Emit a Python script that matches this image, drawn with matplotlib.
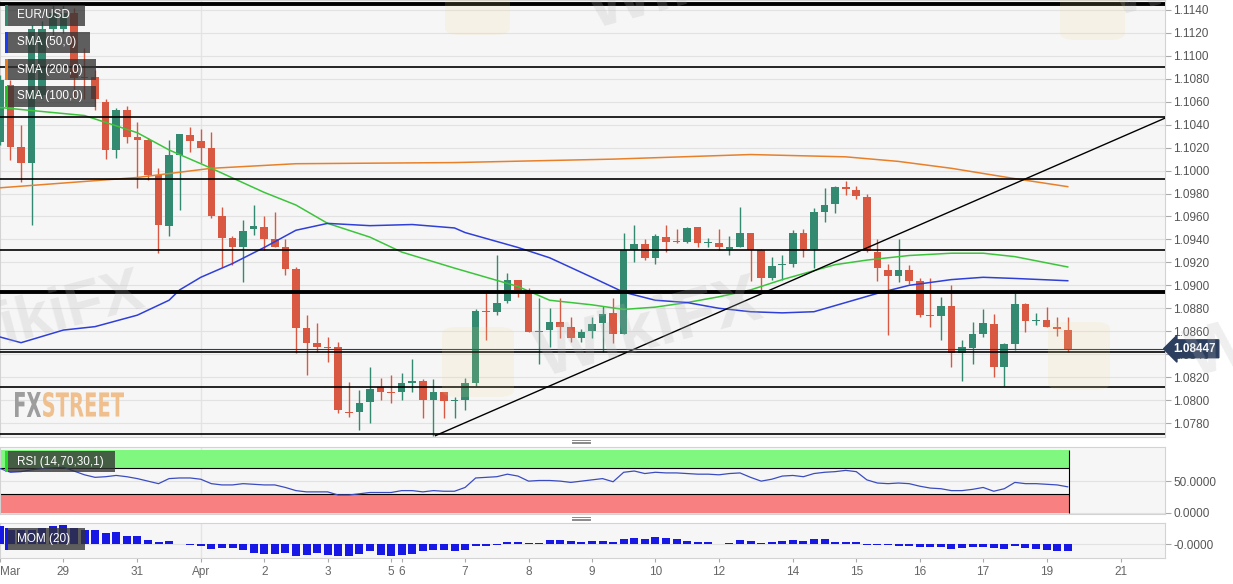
import matplotlib
matplotlib.use("Agg")
import matplotlib.pyplot as plt
from matplotlib.patches import Rectangle, FancyBboxPatch, PathPatch
from matplotlib.textpath import TextPath
from matplotlib.font_manager import FontProperties
from matplotlib.transforms import Affine2D, IdentityTransform

plt.rcParams["font.family"] = ["Liberation Sans", "DejaVu Sans"]

# ---- data (4h candles, first one half hidden at the left edge) ----
first_idx = -1
opens = [1.1025, 1.1075, 1.1021, 1.1007, 1.1066, 1.1123, 1.1123, 1.1137, 1.1082, 1.1082,
         1.1060, 1.1018, 1.1053, 1.1029, 1.1027, 1.0996, 1.0952, 1.1014, 1.1031, 1.1026,
         1.1020, 1.0960, 1.0941, 1.0933, 1.0949, 1.0951, 1.0940, 1.0933, 1.0914, 1.0863,
         1.0850, 1.0846, 1.0846, 1.0790, 1.0790, 1.0798, 1.0811, 1.0807, 1.0807, 1.0815,
         1.0817, 1.0800, 1.0807, 1.0799, 1.0800, 1.0815, 1.0878, 1.0877, 1.0886, 1.0905,
         1.0893, 1.0859, 1.0861, 1.0868, 1.0864, 1.0854, 1.0860, 1.0867, 1.0876, 1.0858,
         1.0931, 1.0936, 1.0924, 1.0942, 1.0939, 1.0938, 1.0951, 1.0937, 1.0937, 1.0932,
         1.0933, 1.0946, 1.0931, 1.0906, 1.0918, 1.0919, 1.0946, 1.0932, 1.0964, 1.0971,
         1.0986, 1.0983, 1.0977, 1.0929, 1.0913, 1.0908, 1.0913, 1.0904, 1.0874, 1.0873,
         1.0882, 1.0841, 1.0845, 1.0858, 1.0866, 1.0829, 1.0849, 1.0884, 1.0869, 1.0870,
         1.0864, 1.0861]
highs = [1.1083, 1.1079, 1.1040, 1.1127, 1.1130, 1.1146, 1.1146, 1.1142, 1.1107, 1.1088,
         1.1062, 1.1055, 1.1056, 1.1042, 1.1028, 1.1002, 1.1027, 1.1032, 1.1038, 1.1036,
         1.1034, 1.0968, 1.0943, 1.0957, 1.0970, 1.0960, 1.0964, 1.0940, 1.0916, 1.0874,
         1.0867, 1.0855, 1.0851, 1.0816, 1.0809, 1.0829, 1.0819, 1.0822, 1.0824, 1.0836,
         1.0818, 1.0818, 1.0807, 1.0803, 1.0819, 1.0879, 1.0893, 1.0926, 1.0911, 1.0905,
         1.0898, 1.0889, 1.0880, 1.0889, 1.0872, 1.0862, 1.0872, 1.0882, 1.0889, 1.0946,
         1.0953, 1.0940, 1.0945, 1.0953, 1.0949, 1.0951, 1.0951, 1.0941, 1.0949, 1.0943,
         1.0968, 1.0946, 1.0932, 1.0925, 1.0926, 1.0948, 1.0949, 1.0967, 1.0985, 1.0987,
         1.0991, 1.0987, 1.0980, 1.0940, 1.0919, 1.0940, 1.0918, 1.0906, 1.0906, 1.0890,
         1.0900, 1.0852, 1.0868, 1.0879, 1.0875, 1.0850, 1.0893, 1.0885, 1.0876, 1.0881,
         1.0872, 1.0872]
lows = [1.1022, 1.1009, 1.0990, 1.0953, 1.1062, 1.1118, 1.1120, 1.1062, 1.1062, 1.1053,
        1.1010, 1.1011, 1.1024, 1.0985, 1.0992, 1.0928, 1.0943, 1.0966, 1.1016, 1.1007,
        1.0959, 1.0916, 1.0918, 1.0903, 1.0944, 1.0931, 1.0933, 1.0909, 1.0841, 1.0822,
        1.0842, 1.0833, 1.0789, 1.0785, 1.0774, 1.0780, 1.0800, 1.0797, 1.0800, 1.0807,
        1.0784, 1.0769, 1.0784, 1.0784, 1.0791, 1.0812, 1.0852, 1.0874, 1.0885, 1.0890,
        1.0859, 1.0831, 1.0846, 1.0854, 1.0851, 1.0851, 1.0854, 1.0842, 1.0850, 1.0858,
        1.0920, 1.0922, 1.0919, 1.0929, 1.0937, 1.0937, 1.0933, 1.0933, 1.0931, 1.0926,
        1.0933, 1.0904, 1.0896, 1.0905, 1.0905, 1.0916, 1.0925, 1.0915, 1.0955, 1.0963,
        1.0979, 1.0975, 1.0929, 1.0904, 1.0857, 1.0903, 1.0901, 1.0872, 1.0864, 1.0852,
        1.0829, 1.0817, 1.0831, 1.0855, 1.0820, 1.0812, 1.0844, 1.0859, 1.0865, 1.0864,
        1.0856, 1.0842]
closes = [1.1079, 1.1021, 1.1007, 1.1123, 1.1123, 1.1137, 1.1137, 1.1081, 1.1081, 1.1062,
          1.1018, 1.1053, 1.1029, 1.1027, 1.0996, 1.0953, 1.1014, 1.1032, 1.1026, 1.1020,
          1.0960, 1.0941, 1.0933, 1.0947, 1.0952, 1.0940, 1.0933, 1.0914, 1.0863, 1.0850,
          1.0846, 1.0845, 1.0791, 1.0789, 1.0797, 1.0810, 1.0807, 1.0806, 1.0815, 1.0817,
          1.0800, 1.0807, 1.0799, 1.0800, 1.0815, 1.0878, 1.0877, 1.0885, 1.0905, 1.0896,
          1.0859, 1.0860, 1.0868, 1.0864, 1.0854, 1.0859, 1.0866, 1.0875, 1.0858, 1.0931,
          1.0936, 1.0924, 1.0943, 1.0938, 1.0938, 1.0950, 1.0937, 1.0938, 1.0933, 1.0933,
          1.0946, 1.0931, 1.0906, 1.0917, 1.0919, 1.0946, 1.0932, 1.0964, 1.0970, 1.0986,
          1.0984, 1.0978, 1.0930, 1.0915, 1.0908, 1.0913, 1.0904, 1.0874, 1.0873, 1.0882,
          1.0841, 1.0846, 1.0858, 1.0867, 1.0829, 1.0849, 1.0884, 1.0869, 1.0870, 1.0864,
          1.0862, 1.08447]

# moving averages, sampled along the curves (candle index, price)
sma50_x = [-1, 1, 5, 8, 12, 15, 16, 18, 21, 24, 27, 30, 34, 38, 42, 43, 48, 51, 55, 58,
           61, 64, 67, 70, 73, 76, 79, 82, 85, 89, 92, 95, 100]
sma50 = [1.0855, 1.0850, 1.0861, 1.0864, 1.0874, 1.0887, 1.0896, 1.0907, 1.0919, 1.0933,
         1.0948, 1.0954, 1.0952, 1.0953, 1.0950, 1.0946, 1.0933, 1.0924, 1.0907, 1.0894,
         1.0887, 1.0885, 1.0880, 1.0877, 1.0876, 1.0877, 1.0885, 1.0893, 1.0900, 1.0905,
         1.0907, 1.0906, 1.0904]
sma100_x = [-1, 7, 12, 15, 19, 24, 27, 30, 34, 37, 42, 45, 48, 51, 55, 58, 61, 64, 67,
            70, 73, 78, 81, 85, 89, 92, 95, 100]
sma100 = [1.1055, 1.1048, 1.1033, 1.1018, 1.1002, 1.0981, 1.0970, 1.0954, 1.0942, 1.0929,
          1.0915, 1.0907, 1.0899, 1.0887, 1.0883, 1.0879, 1.0881, 1.0885, 1.0890, 1.0896,
          1.0905, 1.0918, 1.0922, 1.0926, 1.0928, 1.0928, 1.0925, 1.0916]
sma200_x = [-1, 12, 19, 27, 42, 57, 70, 79, 84, 89, 95, 100]
sma200 = [1.0985, 1.0994, 1.1002, 1.1006, 1.1007, 1.1010, 1.1014, 1.1012, 1.1008, 1.1002,
          1.0993, 1.0986]

levels = [1.1090, 1.1047, 1.0993, 1.0931, 1.0842, 1.0811, 1.0770]
thick_levels = [1.1145, 1.0894]
trend_x = [40.2, 115]
trend_y = [1.0769, 1.1069]
last_price = 1.08447

rsi = [70, 64, 65, 68, 70, 71, 72, 66, 60, 56, 57, 59, 57, 54, 50, 46, 54, 55, 55, 53,
       46, 44, 44, 46, 45, 44, 44, 40, 35, 33, 33, 33, 28, 28, 30, 32, 32, 32, 35, 35,
       33, 35, 34, 34, 40, 55, 56, 57, 61, 58, 50, 51, 51, 50, 48, 50, 52, 54, 49, 64,
       66, 62, 64, 63, 63, 62, 61, 61, 60, 62, 63, 56, 50, 53, 58, 59, 57, 62, 64, 65,
       67, 65, 52, 47, 46, 47, 46, 42, 39, 38, 35, 35, 37, 40, 34, 38, 48, 46, 46, 45,
       44, 41]
mom = [0.0108, 0.0088, 0.0088, 0.0088, 0.0098, 0.0108, 0.0118, 0.0098, 0.0088, 0.0088,
       0.0068, 0.0072, 0.0052, 0.0048, 0.0028, 0.0012, 0.0018, 0.0004, -0.0004, -0.0008,
       -0.0028, -0.0022, -0.0022, -0.0032, -0.0052, -0.0058, -0.0056, -0.0052, -0.0068, -0.0062,
       -0.0052, -0.0062, -0.0072, -0.0072, -0.0056, -0.0042, -0.0062, -0.0068, -0.0062, -0.0056,
       -0.0042, -0.0036, -0.0036, -0.0042, -0.0036, -0.0012, -0.0008, -0.0004, 0.0012, 0.0012,
       0.0006, 0.0006, 0.0026, 0.0026, 0.0020, 0.0016, 0.0020, 0.0022, 0.0016, 0.0034,
       0.0040, 0.0034, 0.0044, 0.0040, 0.0034, 0.0018, 0.0014, 0.0014, 0.0004, 0.0008,
       0.0024, 0.0018, 0.0010, 0.0014, 0.0018, 0.0024, 0.0018, 0.0030, 0.0034, 0.0014,
       0.0014, 0.0014, -0.0002, -0.0006, -0.0006, -0.0008, -0.0008, -0.0018, -0.0014, -0.0014,
       -0.0030, -0.0024, -0.0014, -0.0014, -0.0024, -0.0030, -0.0010, -0.0024, -0.0030, -0.0034,
       -0.0038, -0.0038]

tick_idx = [-1, 5, 12, 18, 24, 30, 36, 37, 43, 49, 55, 61, 67, 74, 80, 86, 92, 98, 105]
tick_labels = ["Mar", "29", "31", "Apr", "2", "3", "5", "6", "7", "8", "9", "10", "12",
               "14", "15", "16", "17", "19", "21"]

GREEN = "#338a70"
RED = "#d85842"
W, H = 1233, 584

x = list(range(first_idx, first_idx + len(opens)))

fig = plt.figure(figsize=(W / 100, H / 100), dpi=100)
fig.patch.set_facecolor("white")


def px_axes(top, bottom, left=0, right=1165):
    return fig.add_axes([left / W, 1 - bottom / H, (right - left) / W, (bottom - top) / H])


def style(a):
    a.set_facecolor("#f6f6f6")
    for s in a.spines.values():
        s.set_color("#d3d3d3")
    a.yaxis.tick_right()
    a.tick_params(axis="y", length=4, color="#aaaaaa", labelcolor="#555555",
                  labelsize=8.5, pad=2)
    a.set_xlim(-0.99, 109.2)
    a.grid(axis="y", color="#e2e2e2", lw=0.8)
    a.set_axisbelow(True)
    a.axvline(18, color="#e4e4e4", lw=1, zorder=0)


ax = px_axes(0, 437)
ax_rsi = px_axes(447, 514)
ax_mom = px_axes(523, 558)
for a in (ax, ax_rsi, ax_mom):
    style(a)
ax.set_xticks([])
ax_rsi.set_xticks([])

# ---- price panel ----
ax.set_ylim(1.07678, 1.11487)
ax.set_yticks([1.0780 + 0.002 * k for k in range(19)])
ax.set_yticklabels([f"{1.0780 + 0.002 * k:.4f}" for k in range(19)])

cols = [GREEN if c >= o else RED for o, c in zip(opens, closes)]
ax.vlines(x, lows, highs, colors=cols, lw=1, zorder=3)
bottoms = [min(o, c) for o, c in zip(opens, closes)]
heights = [max(abs(c - o), 0.00009) for o, c in zip(opens, closes)]
ax.bar(x, heights, bottom=bottoms, width=0.72, color=cols, lw=0, zorder=4)

ax.plot(sma200_x, sma200, color="#e8802a", lw=1.1, zorder=5)
ax.plot(sma100_x, sma100, color="#3cc43c", lw=1.1, zorder=5)
ax.plot(sma50_x, sma50, color="#2f3fd8", lw=1.1, zorder=5)

for lv in levels:
    ax.axhline(lv, color="black", lw=1.2, zorder=6)
for lv in thick_levels:
    ax.axhline(lv, color="black", lw=2.8, zorder=6)
ax.plot(trend_x, trend_y, color="black", lw=1, zorder=6)
ax.axhline(last_price, color="#2c3e5e", lw=0.8, zorder=6)
ax.annotate(f"{last_price:.5f}", xy=(1.0, last_price), xycoords=("axes fraction", "data"),
            xytext=(6, 0), textcoords="offset points", ha="left", va="center",
            color="white", fontsize=8.5, fontweight="bold", annotation_clip=False, zorder=20,
            bbox=dict(boxstyle="larrow,pad=0.25", fc="#2c3e5e", ec="#2c3e5e"))

# ---- RSI panel ----
ax_rsi.set_ylim(-2, 104)
ax_rsi.set_yticks([0, 50])
ax_rsi.set_yticklabels(["0.0000", "50.0000"])
ax_rsi.add_patch(Rectangle((-2, 70), 102.1, 30, fc="#80f880", ec="none", zorder=1))
ax_rsi.add_patch(Rectangle((-2, 0), 102.1, 30, fc="#f88080", ec="none", zorder=1))
ax_rsi.hlines([70, 30], -2, 100.1, color="black", lw=0.8, zorder=2)
ax_rsi.vlines(100.1, 0, 100, color="black", lw=0.8, zorder=2)
ax_rsi.plot(x, rsi, color="#3b4cc0", lw=0.9, zorder=3)

# ---- momentum panel ----
ax_mom.set_ylim(-0.00828, 0.01272)
ax_mom.set_yticks([0])
ax_mom.set_yticklabels(["-0.0000"])
ax_mom.bar(x, mom, width=0.75, color="#1717e6", zorder=3)
ax_mom.set_xticks(tick_idx)
ax_mom.set_xticklabels(tick_labels)
ax_mom.tick_params(axis="x", length=3, color="#aaaaaa", labelcolor="#666666",
                   labelsize=8.5, pad=3)
ax_mom.get_xticklabels()[0].set_ha("left")


# ---- overlays drawn in pixel coordinates ----
def rect(x0, y0, w, h, **kw):
    fig.patches.append(Rectangle((x0 / W, 1 - (y0 + h) / H), w / W, h / H,
                                 transform=fig.transFigure, **kw))


def tag(x0, y0, w, h, text, strip):
    rect(x0, y0, w, h, fc="#333333", alpha=0.78, ec="none", zorder=10)
    rect(x0, y0, 2.5, h, fc=strip, ec="none", zorder=11)
    fig.text((x0 + 12) / W, 1 - (y0 + h / 2) / H, text, color="white", fontsize=8.5,
             va="center", ha="left", zorder=12)


tag(5, 5, 80, 21, "EUR/USD", GREEN)
tag(5, 32, 85, 21, "SMA (50,0)", "#1a3cf0")
tag(5, 59, 91, 21, "SMA (200,0)", "#e87a1e")
tag(5, 86, 91, 21, "SMA (100,0)", "#22c022")
tag(5, 451, 110, 21, "RSI (14,70,30,1)", "#22dd22")
tag(5, 528, 80, 22, "MOM (20)", "#1717e6")

for yy in (440, 441.7, 443.4, 517, 518.7, 520.4):
    fig.add_artist(plt.Line2D([572 / W, 590 / W], [1 - yy / H, 1 - yy / H],
                              color="#8a8a8a", lw=0.7))

# watermarks
for cx, cy, fs in ((45, 318, 44), (650, 330, 50), (700, -18, 50), (1300, 330, 50),
                   (1210, -25, 44)):
    fig.text(cx / W, 1 - cy / H, "WikiFX", fontsize=fs, fontweight="bold", color="#b5b5b5",
             alpha=0.22, rotation=15, ha="center", va="center", zorder=9)
for lx, ly, lw_, lh in ((442, 327, 72, 70), (445, -15, 65, 50), (1048, 322, 62, 68),
                        (1060, -15, 65, 55)):
    fig.patches.append(FancyBboxPatch((lx / W, 1 - (ly + lh) / H), lw_ / W, lh / H,
                                      boxstyle="round,pad=0,rounding_size=0.012",
                                      transform=fig.transFigure, fc="#f0d890", ec="none",
                                      alpha=0.15, zorder=9))


def squeezed_word(word, x0, x1, top, bottom, color):
    # bold glyphs squeezed into a pixel box, like the condensed FXSTREET logo
    path = TextPath((0, 0), word, size=40, prop=FontProperties(family="DejaVu Sans",
                                                               weight="bold"))
    ext = path.get_extents()
    sx = (x1 - x0) / ext.width
    sy = (bottom - top) / ext.height
    tr = (Affine2D().translate(-ext.x0, -ext.y0).scale(sx, sy)
          .translate(x0, H - bottom) + IdentityTransform())
    fig.add_artist(PathPatch(path, transform=tr, fc=color, ec="none", zorder=9))


squeezed_word("FX", 15, 41, 392, 417, "#9d9d9d")
squeezed_word("STREET", 43, 124, 392, 417, "#efc08e")

fig.savefig("out.png", dpi=100)
